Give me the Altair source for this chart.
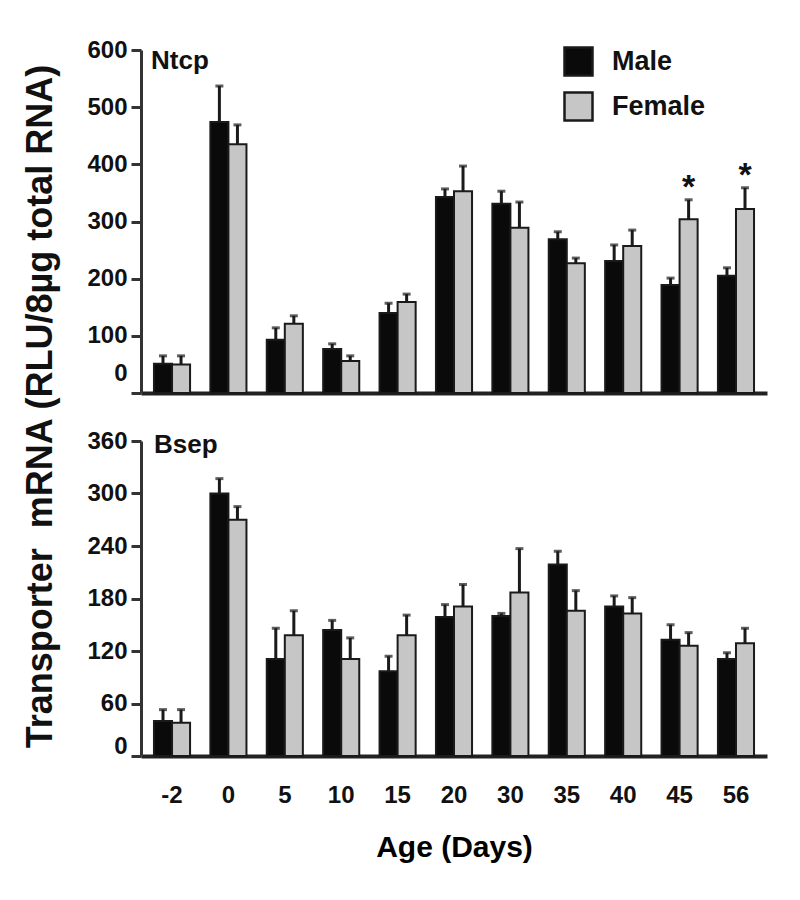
import altair as alt
import pandas as pd

# ---------------- data ----------------
ages = ["-2", "0", "5", "10", "15", "20", "30", "35", "40", "45", "56"]
sexes = ["Male", "Female"]

ntcp_male = [51, 474, 93, 77, 140, 343, 331, 269, 231, 189, 205]
ntcp_male_sem = [14, 63, 21, 9, 17, 14, 22, 13, 28, 12, 14]
ntcp_female = [50, 435, 121, 56, 159, 353, 289, 227, 257, 304, 322]
ntcp_female_sem = [15, 34, 14, 9, 14, 44, 45, 9, 28, 34, 37]

bsep_male = [40, 300, 111, 144, 97, 159, 160, 219, 171, 133, 111]
bsep_male_sem = [13, 17, 35, 11, 17, 14, 3, 15, 12, 17, 7]
bsep_female = [38, 270, 138, 111, 138, 171, 187, 166, 163, 126, 129]
bsep_female_sem = [15, 15, 28, 24, 23, 25, 50, 23, 18, 15, 17]

ntcp_star_ages = ["45", "56"]

ntcp_ticks = [0, 100, 200, 300, 400, 500, 600]
bsep_ticks = [0, 60, 120, 180, 240, 300, 360]

y_title = "Transporter\u00a0 mRNA (RLU/8\u00b5g total RNA)"
x_title = "Age (Days)"


def make_df(male, male_sem, female, female_sem):
    rows = []
    for i, a in enumerate(ages):
        rows.append({"age": a, "sex": "Male", "value": male[i], "top": male[i] + male_sem[i]})
        rows.append({"age": a, "sex": "Female", "value": female[i], "top": female[i] + female_sem[i]})
    return pd.DataFrame(rows)


ntcp = make_df(ntcp_male, ntcp_male_sem, ntcp_female, ntcp_female_sem)
bsep = make_df(bsep_male, bsep_male_sem, bsep_female, bsep_female_sem)
ntcp_stars = ntcp[(ntcp["sex"] == "Female") & (ntcp["age"].isin(ntcp_star_ages))]

FONT = "Liberation Sans"
W = 626
INK = "#1a1a1a"

x_scale = alt.Scale(domain=ages, paddingInner=0.36, paddingOuter=0.23)
off_scale = alt.Scale(domain=sexes)
color_scale = alt.Scale(domain=sexes, range=["#0a0a0a", "#c6c6c6"])


def panel(df, ymax, ticks, label, height, bottom, zero_shift, stars=None):
    if bottom:
        x_axis = alt.Axis(title=x_title, labelAngle=0, ticks=False, labelPadding=27,
                          labelFontSize=24, titleFontSize=30, titlePadding=25,
                          titleFont=FONT, titleFontWeight="bold", domainWidth=4, domainColor="#222")
    else:
        x_axis = alt.Axis(title=None, labels=False, ticks=False, domainWidth=4, domainColor="#222")

    y_kwargs = dict(
        values=ticks,
        labelOffset={"condition": {"test": "datum.value === 0", "value": zero_shift}, "value": 0},
    )
    if bottom:
        y_kwargs["title"] = None
    else:
        y_kwargs.update(title=y_title, titleX=-82, titleY=356, titleAngle=270,
                        titleAlign="center", titleBaseline="bottom", titleFontSize=36,
                        titleFont=FONT, titleFontWeight="bold", titleColor="#111")
    y_axis = alt.Axis(**y_kwargs)

    X = alt.X("age:N", sort=ages, scale=x_scale, axis=x_axis)
    XO = alt.XOffset("sex:N", sort=sexes, scale=off_scale)
    yscale = alt.Scale(domain=[0, ymax], nice=False)

    if bottom:
        legend = None
    else:
        legend = alt.Legend(orient="none", legendX=422, legendY=-4, title=None,
                            symbolType="square", symbolSize=784,
                            symbolStrokeColor=INK, symbolStrokeWidth=2.5,
                            labelFont=FONT, labelFontSize=27, labelFontWeight="bold",
                            labelColor="#111", labelOffset=18, rowPadding=6, padding=0)

    base = alt.Chart(df)
    bars = base.mark_bar(stroke=INK, strokeWidth=2).encode(
        x=X, xOffset=XO,
        y=alt.Y("value:Q", scale=yscale, axis=y_axis),
        color=alt.Color("sex:N", scale=color_scale, legend=legend),
    )
    rules = base.mark_rule(color=INK, strokeWidth=3).encode(
        x=X, xOffset=XO, y="value:Q", y2="top:Q"
    )
    caps = base.mark_tick(color=INK, thickness=3, size=8).encode(
        x=X, xOffset=XO, y="top:Q"
    )
    lab = alt.Chart(pd.DataFrame({"label": [label]})).mark_text(
        align="left", baseline="middle", font=FONT, fontSize=26, fontWeight="bold", color="#111"
    ).encode(text="label:N", x=alt.value(10 if not bottom else 13), y=alt.value(11 if not bottom else 4))

    layers = [bars, rules, caps]
    if stars is not None:
        st = alt.Chart(stars).mark_text(
            text="*", font=FONT, fontSize=34, fontWeight="bold", baseline="middle", dy=-12, color="#111"
        ).encode(x=X, xOffset=XO, y="top:Q")
        layers.append(st)
    layers.append(lab)
    return alt.layer(*layers).properties(width=W, height=height)


top = panel(ntcp, 600, ntcp_ticks, "Ntcp", 343, False, -20, stars=ntcp_stars)
bot = panel(bsep, 360, bsep_ticks, "Bsep", 315, True, -10)

chart = alt.vconcat(top, bot, spacing=48, bounds="flush").resolve_legend(
    color="independent"
).properties(
    padding={"left": 13, "top": 30, "right": 5, "bottom": 5}
).configure_view(stroke=None).configure_axis(
    grid=False, domainColor="#333", domainWidth=3, tickColor="#333", tickWidth=3,
    tickSize=10, labelFont=FONT, labelFontSize=24, labelFontWeight="bold",
    labelColor="#111", labelPadding=4
)

chart.save("out.html", embed_options={"renderer": "svg", "actions": False})
